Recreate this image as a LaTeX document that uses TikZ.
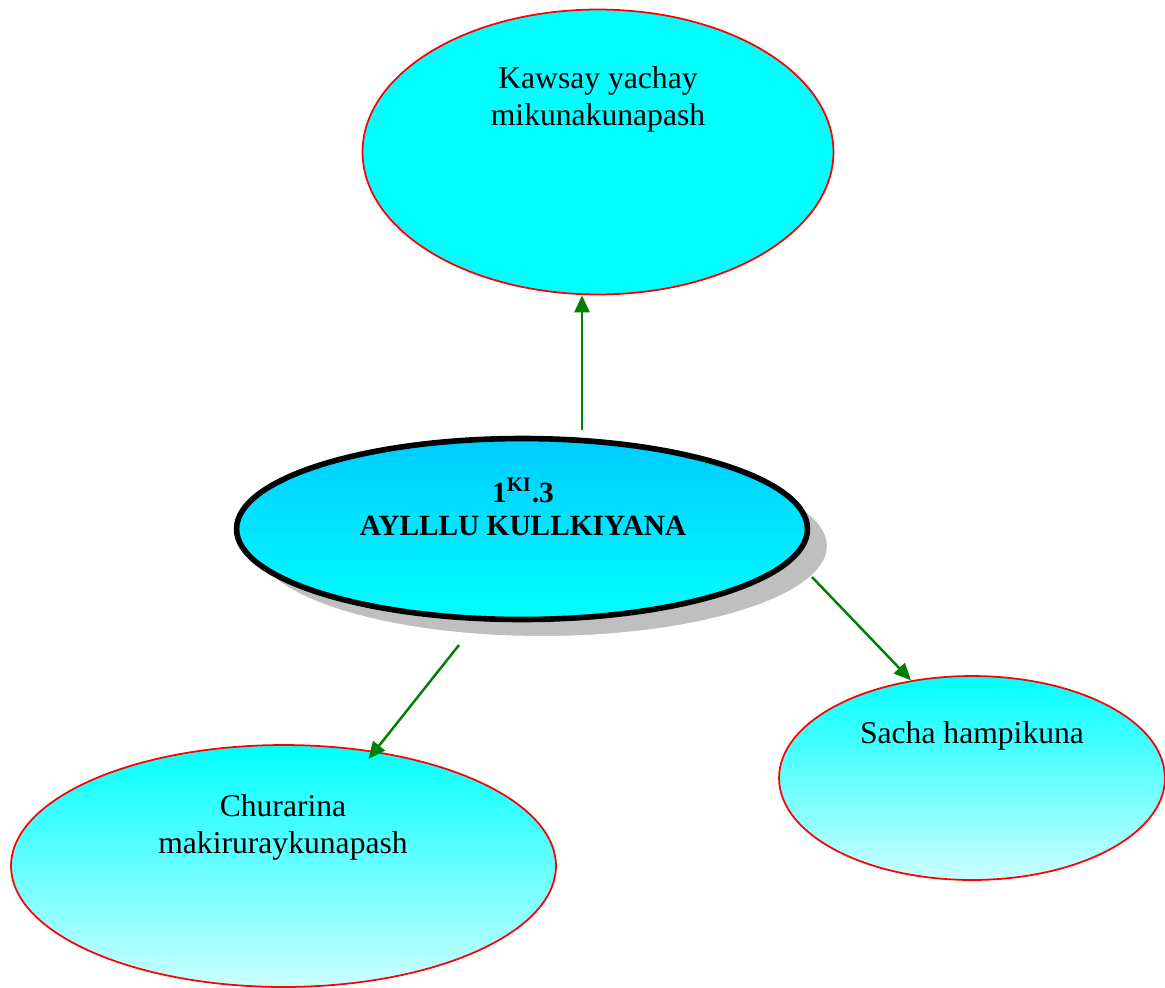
\documentclass[tikz,border=0pt]{standalone}
\usepackage{fontspec}
\setmainfont{Liberation Serif}
\usetikzlibrary{shapes.geometric,arrows.meta,shadows}
\definecolor{linkgreen}{RGB}{0,128,0}
\definecolor{aqua}{RGB}{0,255,255}
\definecolor{topblue}{RGB}{0,204,255}
\definecolor{pale}{RGB}{204,255,255}

\begin{document}
\begin{tikzpicture}
  [x=0.02cm,y=-0.02cm,
   bubble/.style={ellipse,draw=red,line width=1pt,inner sep=0pt},
   txt/.style={align=center,font=\fontsize{18}{21}\selectfont},
   hdr/.style={align=center,font=\bfseries\fontsize{16.7}{18.5}\selectfont},
   link/.style={-{Triangle[length=0.34cm,width=0.3cm]},draw=linkgreen,line width=1.4pt}]
  \useasboundingbox (0,0) rectangle (1165,987);

  \node[bubble,fill=aqua,minimum width=9.42cm,minimum height=5.7cm] (kawsay) at (598,152) {};
  \node[ellipse,draw=black,line width=3.2pt,top color=topblue,bottom color=aqua,
        minimum width=11.42cm,minimum height=3.62cm,
        drop shadow={shadow xshift=0.4cm,shadow yshift=-0.34cm,fill=black!25,
                     draw=white,line width=0.6pt,opacity=1}] (ayllu) at (522,529) {};
  \node[bubble,top color=aqua,bottom color=pale,minimum width=10.9cm,minimum height=4.84cm] (churarina) at (283.5,866) {};
  \node[bubble,top color=aqua,bottom color=pale,minimum width=7.72cm,minimum height=4.08cm] (sacha) at (972,778) {};

  \node[txt] (kawsaytxt) at (598,99) {Kawsay yachay\\mikunakunapash};
  \node[hdr] (ayllutxt) at (523,507) {1\textsuperscript{KI}.3\\AYLLLU KULLKIYANA};
  \node[txt] (churarinatxt) at (283,827) {Churarina\\makiruraykunapash};
  \node[txt] (sachatxt) at (972,736) {Sacha hampikuna};

  \coordinate (s1) at (582,430);
  \coordinate (s2) at (459,645);
  \coordinate (s3) at (812,577);

\path
(s1) edge [link] (s1 |- kawsay.south)
(s2) edge [link,shorten >=-0.2cm] (churarina)
(s3) edge [link] (sacha.122)
;
\end{tikzpicture}
\end{document}
